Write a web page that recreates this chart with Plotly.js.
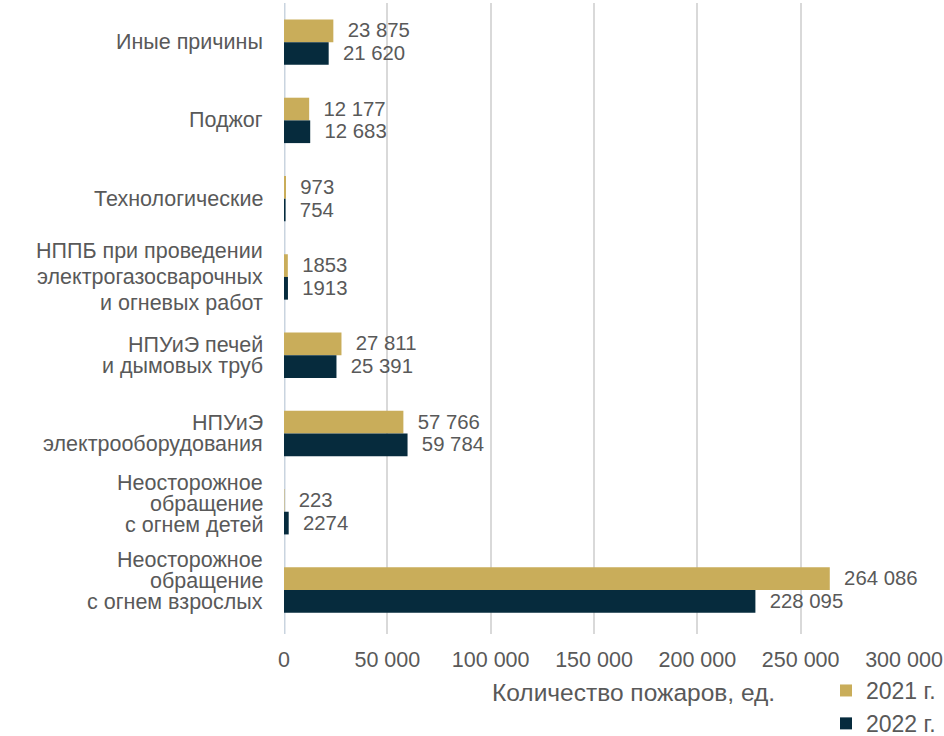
<!DOCTYPE html>
<html>
<head>
<meta charset="utf-8">
<script src="https://cdn.plot.ly/plotly-3.0.1.min.js"></script>
<style>html,body{margin:0;padding:0;background:#fff;}#chart{width:944px;height:736px;}</style>
</head>
<body>
<div id="chart"></div>
<script>
const categories = [
  "Иные причины",
  "Поджог",
  "Технологические",
  "НППБ при проведении<br>электрогазосварочных<br>и огневых работ",
  "НПУиЭ печей<br>и дымовых труб",
  "НПУиЭ<br>электрооборудования",
  "Неосторожное<br>обращение<br>с огнем детей",
  "Неосторожное<br>обращение<br>с огнем взрослых"
];
const values2021 = [23875, 12177, 973, 1853, 27811, 57766, 223, 264086];
const values2022 = [21620, 12683, 754, 1913, 25391, 59784, 2274, 228095];
const seriesNames = ["2021 г.", "2022 г."];
const tickValues = [0, 50000, 100000, 150000, 200000, 250000, 300000];
const tickLabels = ["0", "50 000", "100 000", "150 000", "200 000", "250 000", "300 000"];

function fmt(v) {
  const s = String(v);
  if (s.length <= 4) return s;
  return s.replace(/\B(?=(\d{3})+(?!\d))/g, " ");
}

const font = "Liberation Sans, Arial, sans-serif";
const textColor = "#595959";
const fs = 21.5;

// category label styling (line spacing / vertical nudge in px)
const labelStyle = {
  gap: 21,
  gapOverride: {3: 26},
  nudge: {6: 8, 7: 9}
};

const traces = [
  {
    type: "bar", orientation: "h", name: seriesNames[0],
    y: categories, x: values2021,
    text: values2021.map(v => "  " + fmt(v)),
    textposition: "outside", cliponaxis: false,
    textfont: {family: font, size: fs, color: textColor},
    marker: {color: "#C9AD5A"},
    hoverinfo: "x"
  },
  {
    type: "bar", orientation: "h", name: seriesNames[1],
    y: categories, x: values2022,
    text: values2022.map(v => "  " + fmt(v)),
    textposition: "outside", cliponaxis: false,
    textfont: {family: font, size: fs, color: textColor},
    marker: {color: "#062B3D"},
    hoverinfo: "x"
  }
];

const annotations = [{
  text: "Количество пожаров, ед.",
  xref: "paper", yref: "paper",
  x: 0.563, y: -0.0935, xanchor: "center", yanchor: "middle",
  showarrow: false,
  font: {family: font, size: 24.5, color: textColor}
}];

categories.forEach((cat, ci) => {
  const lines = cat.split("<br>");
  const n = lines.length;
  const gap = labelStyle.gapOverride[ci] || labelStyle.gap;
  const nudge = labelStyle.nudge[ci] || 0;
  lines.forEach((ln, li) => {
    annotations.push({
      text: ln,
      xref: "paper", yref: "y",
      x: 0, y: cat,
      xanchor: "right", yanchor: "middle",
      xshift: -19,
      yshift: ((n - 1) / 2 - li) * gap + nudge,
      showarrow: false,
      font: {family: font, size: fs, color: textColor}
    });
  });
});

const layout = {
  width: 944, height: 736,
  margin: {l: 284, r: 40, t: 3, b: 102, autoexpand: false},
  paper_bgcolor: "#fff", plot_bgcolor: "#fff",
  font: {family: font, size: fs, color: textColor},
  barmode: "group", bargap: 0.42, bargroupgap: 0,
  showlegend: true,
  legend: {
    xref: "container", yref: "container",
    x: 0.875, y: 0.091, xanchor: "left", yanchor: "top",
    orientation: "v", traceorder: "normal",
    font: {family: font, size: 23, color: textColor},
    itemwidth: 30, tracegroupgap: 0, bgcolor: "rgba(0,0,0,0)"
  },
  xaxis: {
    range: [0, 300000],
    tickvals: tickValues, ticktext: tickLabels,
    showgrid: true, gridcolor: "#D9D9D9", gridwidth: 2,
    zeroline: false, showline: false,
    ticks: "outside", ticklen: 6, tickcolor: "rgba(0,0,0,0)",
    tickfont: {family: font, size: fs, color: textColor},
    automargin: false,
    fixedrange: true
  },
  yaxis: {
    autorange: "reversed",
    showgrid: false, zeroline: false,
    showline: false, showticklabels: false,
    automargin: false,
    fixedrange: true
  },
  shapes: [{
    type: "line", xref: "x", yref: "paper",
    x0: 0, x1: 0, y0: 0, y1: 1,
    line: {color: "#C9D4DF", width: 3}, layer: "below"
  }],
  annotations: annotations
};

Plotly.newPlot("chart", traces, layout, {displayModeBar: false, staticPlot: true});
</script>
</body>
</html>
